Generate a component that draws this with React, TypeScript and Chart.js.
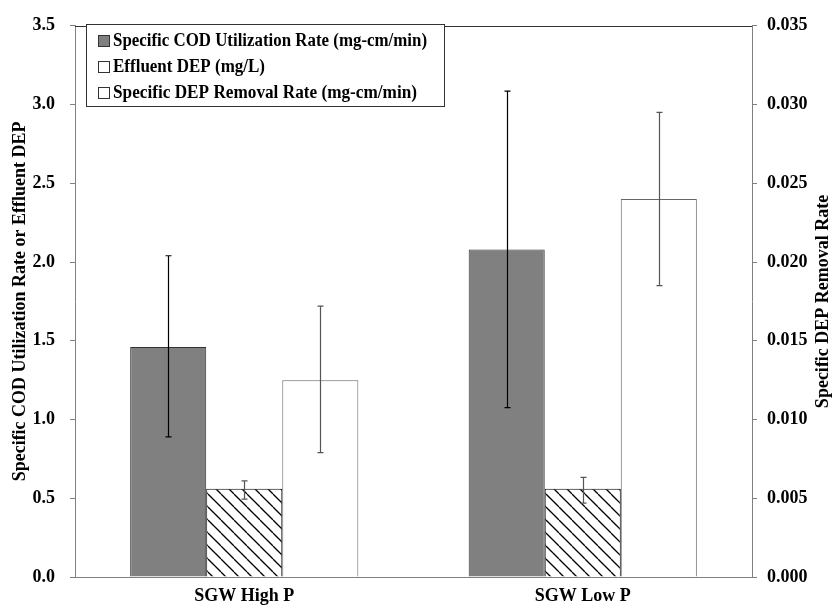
import React, { useEffect, useRef } from 'react';
import { Chart, registerables } from 'chart.js';

Chart.register(...registerables);

// ---- data ----
const categories = ['SGW High P', 'SGW Low P'];

const codRate = [1.46, 2.08];
const codLow = [0.89, 1.075];
const codHigh = [2.04, 3.085];

const effluentDep = [0.56, 0.56];
const depLow = [0.494, 0.469];
const depHigh = [0.61, 0.633];

const depRemoval = [0.0125, 0.024];
const remLow = [0.0079, 0.0185];
const remHigh = [0.0172, 0.0295];

const seriesLabels = [
  'Specific COD Utilization Rate (mg-cm/min)',
  'Effluent DEP (mg/L)',
  'Specific DEP Removal Rate (mg-cm/min)',
];

const leftTitle = 'Specific COD Utilization Rate or Effluent DEP';
const rightTitle = 'Specific DEP Removal Rate';

const leftMax = 3.5;
const leftStep = 0.5;
const rightMax = 0.035;
const rightStep = 0.005;

const FONT = '"Liberation Serif", "Times New Roman", serif';

function makeHatch(): CanvasPattern | string {
  const s = 13;
  const c = document.createElement('canvas');
  c.width = s;
  c.height = s;
  const g = c.getContext('2d');
  if (!g) return '#fff';
  g.fillStyle = '#ffffff';
  g.fillRect(0, 0, s, s);
  g.strokeStyle = '#000000';
  g.lineWidth = 1.3;
  for (const k of [-s, 0, s]) {
    g.beginPath();
    g.moveTo(k, 0);
    g.lineTo(k + s, s);
    g.stroke();
  }
  return g.createPattern(c, 'repeat') || '#fff';
}

// error bars from each dataset's low/high arrays
const errorBars = {
  id: 'errorBars',
  afterDatasetsDraw(chart: any) {
    const ctx = chart.ctx;
    chart.data.datasets.forEach((ds: any, di: number) => {
      if (!ds.errLow) return;
      const meta = chart.getDatasetMeta(di);
      const scale = chart.scales[ds.yAxisID];
      ctx.save();
      ctx.strokeStyle = ds.errColor;
      ctx.lineWidth = 1.2;
      meta.data.forEach((bar: any, i: number) => {
        const x = Math.round(bar.x) + 0.5;
        const yl = scale.getPixelForValue(ds.errLow[i]);
        const yh = scale.getPixelForValue(ds.errHigh[i]);
        ctx.beginPath();
        ctx.moveTo(x, yl);
        ctx.lineTo(x, yh);
        ctx.moveTo(x - 3, yl);
        ctx.lineTo(x + 3, yl);
        ctx.moveTo(x - 3, yh);
        ctx.lineTo(x + 3, yh);
        ctx.stroke();
      });
      ctx.restore();
    });
  },
};

// top frame line, axis titles and the boxed legend
const decorations = {
  id: 'decorations',
  afterDraw(chart: any) {
    const ctx = chart.ctx;
    const { left, right, top, bottom } = chart.chartArea;
    ctx.save();
    ctx.strokeStyle = '#333333';
    ctx.lineWidth = 1;
    ctx.beginPath();
    ctx.moveTo(left, Math.round(top) + 0.5);
    ctx.lineTo(right, Math.round(top) + 0.5);
    ctx.stroke();

    ctx.fillStyle = '#000';
    ctx.font = `bold 18px ${FONT}`;
    ctx.textAlign = 'center';
    ctx.textBaseline = 'middle';
    const midY = (top + bottom) / 2;
    ctx.save();
    ctx.translate(20, midY);
    ctx.rotate(-Math.PI / 2);
    ctx.fillText(leftTitle, 0, 0);
    ctx.restore();
    ctx.save();
    ctx.translate(823, midY);
    ctx.rotate(-Math.PI / 2);
    ctx.fillText(rightTitle, 0, 0);
    ctx.restore();

    // legend
    const bx = 86.5, by = 24.5, bw = 358, bh = 82;
    ctx.fillStyle = '#fff';
    ctx.fillRect(bx, by, bw, bh);
    ctx.strokeStyle = '#333333';
    ctx.strokeRect(bx, by, bw, bh);
    const fills = ['#808080', '#ffffff', '#ffffff'];
    const widths = [314, 152, 304];
    ctx.textAlign = 'left';
    seriesLabels.forEach((t, i) => {
      const cy = 41 + i * 26;
      ctx.fillStyle = fills[i];
      ctx.fillRect(98.5, cy - 5.5, 11, 11);
      ctx.strokeStyle = '#333333';
      ctx.strokeRect(98.5, cy - 5.5, 11, 11);
      ctx.fillStyle = '#000';
      ctx.fillText(t, 113, cy, widths[i]);
    });
    ctx.restore();
  },
};

export default function App() {
  const ref = useRef<HTMLCanvasElement | null>(null);

  useEffect(() => {
    if (!ref.current) return;
    const hatch = makeHatch();
    const tickFont = { family: FONT, size: 18, weight: 'bold' as const };
    const chart = new Chart(ref.current, {
      type: 'bar',
      data: {
        labels: categories,
        datasets: [
          {
            label: seriesLabels[0],
            data: codRate,
            yAxisID: 'y',
            backgroundColor: '#808080',
            borderColor: '#333333',
            borderWidth: 1,
            errLow: codLow,
            errHigh: codHigh,
            errColor: '#000000',
          } as any,
          {
            label: seriesLabels[1],
            data: effluentDep,
            yAxisID: 'y',
            backgroundColor: hatch,
            borderColor: '#000000',
            borderWidth: 1,
            errLow: depLow,
            errHigh: depHigh,
            errColor: '#555555',
          } as any,
          {
            label: seriesLabels[2],
            data: depRemoval,
            yAxisID: 'y1',
            backgroundColor: '#ffffff',
            borderColor: '#666666',
            borderWidth: 1,
            errLow: remLow,
            errHigh: remHigh,
            errColor: '#555555',
          } as any,
        ],
      },
      options: {
        responsive: false,
        animation: false,
        devicePixelRatio: 1,
        layout: { padding: { top: 15, left: 0, right: 0, bottom: 0 } },
        datasets: { bar: { categoryPercentage: 0.674, barPercentage: 1 } },
        plugins: { legend: { display: false }, tooltip: { enabled: false } },
        scales: {
          x: {
            grid: { display: false, drawTicks: false },
            border: { display: true, color: '#808080', width: 1 },
            ticks: { color: '#000', font: tickFont, padding: 9, maxRotation: 0 },
            afterFit: (s: any) => { s.height = 33; },
          },
          y: {
            position: 'left',
            min: 0,
            max: leftMax,
            grid: { drawOnChartArea: false, drawTicks: true, tickLength: 5, color: '#808080' },
            border: { display: true, color: '#808080', width: 1 },
            ticks: {
              stepSize: leftStep,
              color: '#000',
              font: tickFont,
              padding: 15,
              callback: (v: any) => Number(v).toFixed(1),
            },
            afterFit: (s: any) => { s.width = 75; },
          },
          y1: {
            position: 'right',
            min: 0,
            max: rightMax,
            grid: { drawOnChartArea: false, drawTicks: true, tickLength: 5, color: '#808080' },
            border: { display: true, color: '#808080', width: 1 },
            ticks: {
              stepSize: rightStep,
              color: '#000',
              font: tickFont,
              padding: 10,
              callback: (v: any) => Number(v).toFixed(3),
            },
            afterFit: (s: any) => { s.width = 83; },
          },
        },
      } as any,
      plugins: [errorBars, decorations],
    });
    return () => chart.destroy();
  }, []);

  return (
    <div style={{ position: 'absolute', left: 0, top: 0, width: 835, height: 610, background: '#fff' }}>
      <canvas ref={ref} width={835} height={610} />
    </div>
  );
}
